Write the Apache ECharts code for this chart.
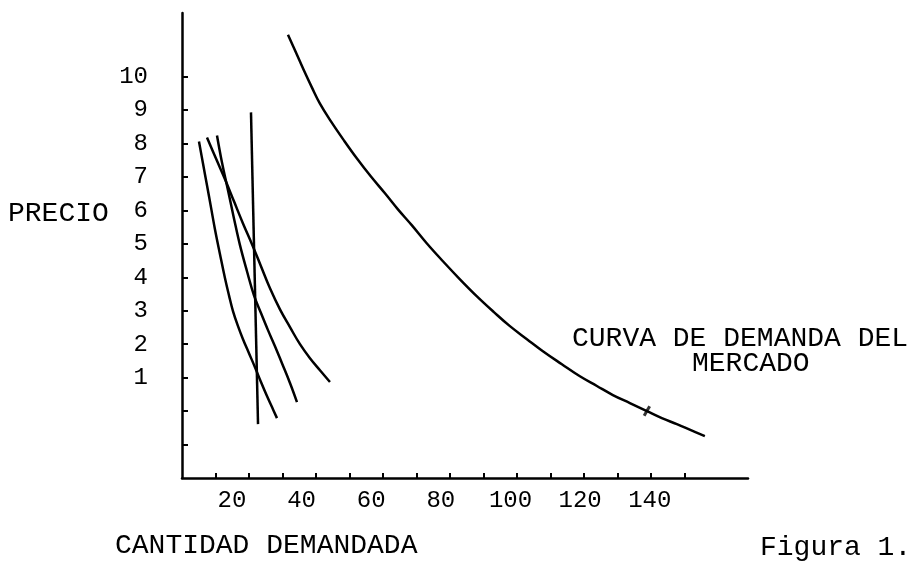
<!DOCTYPE html>
<html>
<head>
<meta charset="utf-8">
<script src="https://cdn.jsdelivr.net/npm/echarts@6/dist/echarts.min.js"></script>
<style>
html,body{margin:0;padding:0;background:#fff;}
#chart{width:916px;height:561px;}
</style>
</head>
<body>
<div id="chart"></div>
<script>
// Tick positions and labels
const xTickValues = [10, 20, 30, 40, 50, 60, 70, 80, 90, 100, 110, 120, 130, 140, 150];
const xLabelValues = [20, 40, 60, 80, 100, 120, 140];
const yTickValues = [-1, 0, 1, 2, 3, 4, 5, 6, 7, 8, 9, 10];
const yLabelValues = [1, 2, 3, 4, 5, 6, 7, 8, 9, 10];

// Individual demand curves [quantity, price]
const demandA = [[5.07, 8.06], [6.27, 7.40], [7.46, 6.75], [8.66, 6.09], [9.85, 5.43], [11.34, 4.69], [12.84, 3.97], [14.03, 3.46], [15.22, 2.99], [16.72, 2.54], [18.21, 2.15], [20.0, 1.73], [21.79, 1.31], [23.58, 0.87], [25.37, 0.45], [26.87, 0.12], [28.36, -0.21]];
const demandB = [[10.45, 8.24], [11.94, 7.43], [13.73, 6.60], [15.52, 5.76], [17.31, 4.96], [19.40, 4.18], [21.49, 3.46], [23.58, 2.93], [25.67, 2.42], [27.76, 1.94], [29.85, 1.43], [32.24, 0.84], [34.33, 0.27]];
const demandC = [[7.46, 8.18], [10.15, 7.55], [12.84, 6.93], [15.52, 6.27], [18.21, 5.61], [20.90, 4.99], [23.58, 4.33], [26.27, 3.67], [29.25, 3.04], [32.24, 2.51], [35.22, 2.00], [38.21, 1.58], [41.19, 1.22], [44.18, 0.87]];
// Vertical (perfectly inelastic) line
const verticalLine = [[20.6, 8.93], [22.7, -0.39]];
// Market demand curve
const marketDemand = [[31.64, 11.25], [34.03, 10.72], [36.42, 10.18], [38.81, 9.67], [41.19, 9.19], [44.48, 8.66], [48.36, 8.09], [52.24, 7.55], [56.42, 7.01], [60.60, 6.51], [64.48, 6.03], [68.66, 5.55], [73.13, 5.01], [77.91, 4.48], [82.99, 3.94], [88.06, 3.43], [93.13, 2.96], [97.91, 2.54], [102.99, 2.15], [107.76, 1.79], [113.43, 1.40], [118.81, 1.04], [123.88, 0.75], [128.66, 0.48], [133.73, 0.24], [138.81, 0.0], [143.28, -0.21], [147.76, -0.39], [151.94, -0.57], [156.12, -0.75]];
const marketMark = [[138.81, 0.0]];

const FONT = '"Liberation Mono", "DejaVu Sans Mono", monospace';
const INK = '#000';

const lineSeries = (data) => ({
  type: 'line', data: data, xAxisIndex: 0, yAxisIndex: 0,
  showSymbol: false, smooth: 0.4,
  lineStyle: { color: INK, width: 2.5 }, silent: true, animation: false
});

const chart = echarts.init(document.getElementById('chart'));
chart.setOption({
  backgroundColor: '#fff',
  animation: false,
  grid: { left: 182, right: 168, top: 13, bottom: 83, containLabel: false },
  xAxis: [
    {
      type: 'value', min: 0, max: 169, interval: 10,
      axisLine: { show: true, onZero: false, lineStyle: { color: INK, width: 2.5 } },
      axisTick: { show: true, inside: true, length: 5, customValues: xTickValues, lineStyle: { color: INK, width: 2 } },
      axisLabel: { show: false },
      splitLine: { show: false }
    },
    {
      type: 'value', min: 5.67, max: 168.2, position: 'bottom',
      axisLine: { show: false, onZero: false },
      axisTick: { show: false },
      axisLabel: { show: true, customValues: xLabelValues, margin: 11, color: INK, fontFamily: FONT, fontSize: 24 },
      splitLine: { show: false }
    }
  ],
  yAxis: {
    type: 'value', min: -2, max: 11.9, interval: 1,
    axisLine: { show: true, onZero: false, lineStyle: { color: INK, width: 2.5 } },
    axisTick: { show: true, inside: true, length: 6, customValues: yTickValues, lineStyle: { color: INK, width: 2 } },
    axisLabel: { show: true, customValues: yLabelValues, margin: 34, color: INK, fontFamily: FONT, fontSize: 24 },
    splitLine: { show: false }
  },
  series: [
    lineSeries(demandA),
    lineSeries(demandB),
    lineSeries(demandC),
    Object.assign(lineSeries(verticalLine), { smooth: false }),
    lineSeries(marketDemand),
    {
      type: 'scatter', data: marketMark, symbol: 'rect', symbolSize: [3, 11], symbolRotate: -30,
      itemStyle: { color: INK }, silent: true
    }
  ],
  graphic: [
    { type: 'text', left: 8, top: 200, style: { text: 'PRECIO', fill: INK, font: '28px ' + FONT } },
    { type: 'text', left: 572, top: 325, style: { text: 'CURVA DE DEMANDA DEL', fill: INK, font: '28px ' + FONT } },
    { type: 'text', left: 692, top: 350, style: { text: 'MERCADO', fill: INK, font: '28px ' + FONT } },
    { type: 'text', left: 115, top: 532, style: { text: 'CANTIDAD DEMANDADA', fill: INK, font: '28px ' + FONT } },
    { type: 'text', left: 760, top: 534, style: { text: 'Figura 1.', fill: INK, font: '28px ' + FONT } }
  ]
});
</script>
</body>
</html>
